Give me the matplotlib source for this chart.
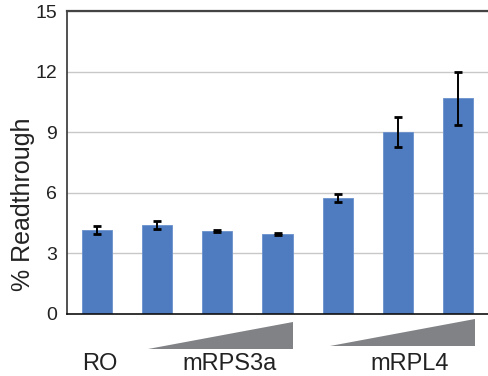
import matplotlib
matplotlib.use("Agg")
import matplotlib.pyplot as plt
from matplotlib.patches import Polygon
import matplotlib.transforms as mtransforms

plt.rcParams['font.family'] = ['Liberation Sans', 'DejaVu Sans']

# readthrough values per lane
values = [4.15, 4.40, 4.12, 3.96, 5.73, 9.03, 10.68]
errors = [0.20, 0.20, 0.05, 0.05, 0.20, 0.74, 1.30]
yticks = [0, 3, 6, 9, 12, 15]
group_labels = ["RO", "mRPS3a", "mRPL4"]
label_pos = [0.05, 2.21, 5.20]
# gradient wedges under each titration (x start, x end)
wedges = [(0.85, 3.26), (3.87, 6.28)]

fig = plt.figure(figsize=(4.88, 3.76), dpi=100)
ax = fig.add_axes([0.1373, 0.1649, 0.8627, 0.8058])

x = list(range(len(values)))
ax.bar(x, values, width=0.5, color="#4f7bc1", edgecolor="#6a90cc", linewidth=0.6, zorder=2)
ax.errorbar(x, values, yerr=errors, fmt="none", ecolor="black", elinewidth=1.4,
            capsize=3, capthick=2, zorder=3)

ax.set_xlim(-0.5, 6.5)
ax.set_ylim(0, 15)
ax.set_yticks(yticks)
ax.set_yticklabels([str(t) for t in yticks], fontsize=14, color="#222222")
ax.tick_params(axis="y", length=0, pad=7)
ax.set_xticks([])
ax.yaxis.grid(True, color="#c8c8c8", linewidth=1.0, zorder=0)
ax.set_axisbelow(True)

ax.spines["right"].set_visible(False)
ax.spines["top"].set_color("#444444")
ax.spines["top"].set_linewidth(1.6)
ax.spines["left"].set_color("#333333")
ax.spines["left"].set_linewidth(1.2)
ax.spines["bottom"].set_color("#111111")
ax.spines["bottom"].set_linewidth(1.2)

trans = mtransforms.blended_transform_factory(ax.transData, ax.transAxes)
wedge_y = [(-0.1155, -0.0264), (-0.1056, -0.0165)]
for (x0, x1), (yb, yt) in zip(wedges, wedge_y):
    tri = Polygon([(x0, yb), (x1, yb), (x1, yt)], closed=True, transform=trans,
                  facecolor="#808285", edgecolor="none", clip_on=False)
    ax.add_patch(tri)

for lab, xp in zip(group_labels, label_pos):
    ax.text(xp, -0.1848, lab, transform=trans, ha="center", va="baseline",
            fontsize=17, color="#222222")

fig.text(23 / 488, 1 - 204.5 / 376, "% Readthrough", rotation=90, ha="center",
         va="center", fontsize=18, color="#222222")

fig.savefig("out.png", dpi=100)
